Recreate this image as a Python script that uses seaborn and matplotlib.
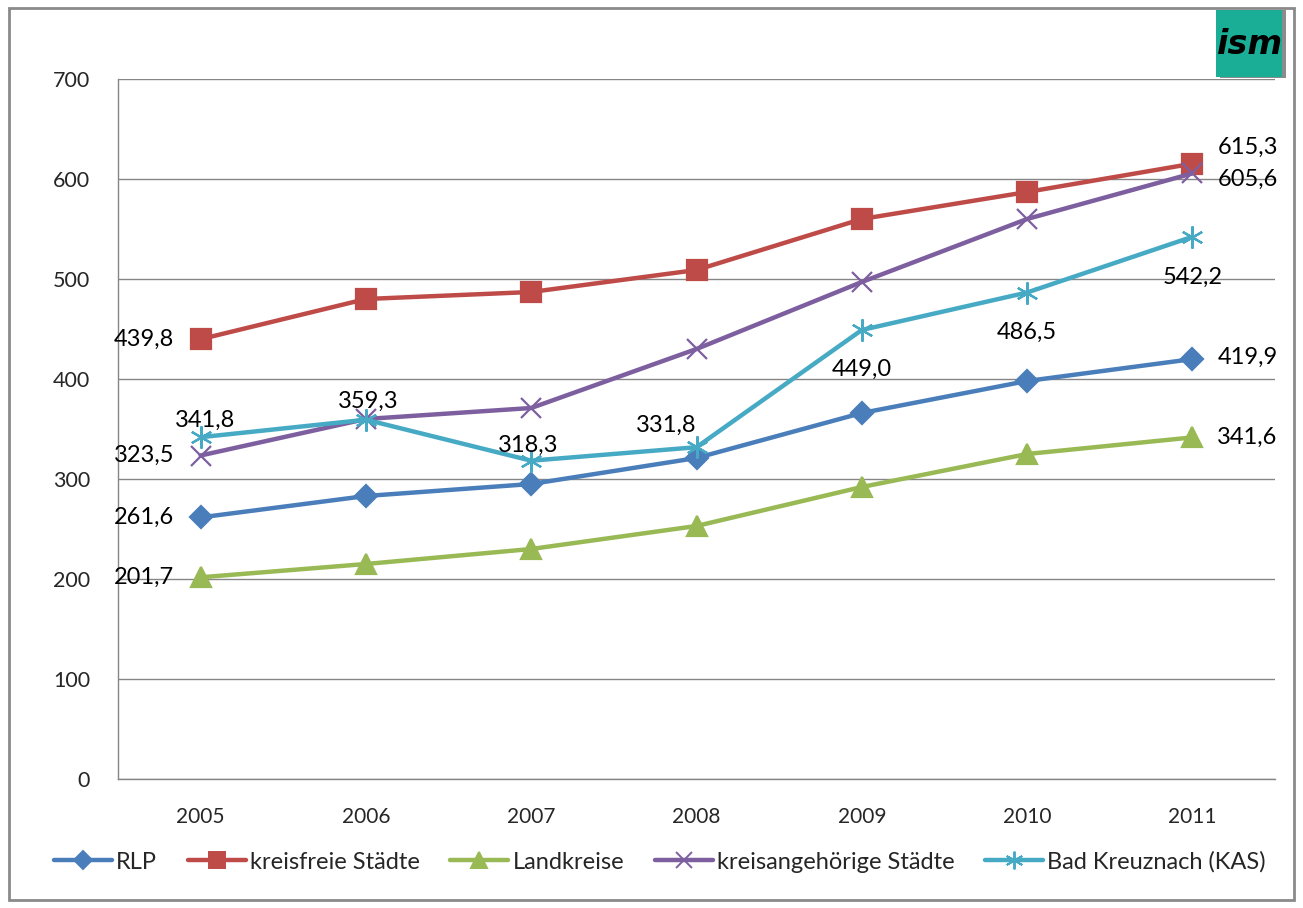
import pandas as pd
import matplotlib.pyplot as plt
import seaborn as sns
from matplotlib.patches import Rectangle
from matplotlib.lines import Line2D

# Data
years = ["2005", "2006", "2007", "2008", "2009", "2010", "2011"]
rlp = [261.6, 283, 295, 321, 366, 398, 419.9]
kreisfreie = [439.8, 480, 487, 509, 560, 587, 615.3]
landkreise = [201.7, 215, 230, 253, 292, 325, 341.6]
kreisangehoerige = [323.5, 360, 371, 430, 497, 560, 605.6]
bad_kreuznach = [341.8, 359.3, 318.3, 331.8, 449.0, 486.5, 542.2]

series_names = ["RLP", "kreisfreie Städte", "Landkreise",
                "kreisangehörige Städte", "Bad Kreuznach (KAS)"]
series_values = [rlp, kreisfreie, landkreise, kreisangehoerige, bad_kreuznach]

colors = ["#4A7EBB", "#BE4B48", "#98B954", "#7D5FA0", "#46AAC5"]
markers = ["D", "s", "^", "x", (6, 2, 0)]
msizes = [11, 14, 14, 14, 16]

sns.set_style("white")
plt.rcParams["font.family"] = ["Lato", "DejaVu Sans"]

fig = plt.figure(figsize=(13.03, 9.08), dpi=100)
ax = fig.add_axes([118 / 1303, 129 / 908, (1275 - 118) / 1303, 700 / 908])

df = pd.DataFrame({"Jahr": years * 5,
                   "x": list(range(7)) * 5,
                   "Wert": sum(series_values, []),
                   "Reihe": [n for n in series_names for _ in years]})

handles = []
for name, col, mk, ms in zip(series_names, colors, markers, msizes):
    sub = df[df["Reihe"] == name]
    sns.lineplot(data=sub, x="x", y="Wert", ax=ax, color=col, linewidth=3.2,
                 marker=mk, markersize=ms, markeredgecolor=col,
                 markeredgewidth=1.6, legend=False, zorder=3)
    handles.append(Line2D([], [], color=col, lw=3.2, marker=mk, markersize=ms * 0.8,
                          markeredgecolor=col, markeredgewidth=1.4))

ax.set_xlim(-0.5, 6.5)
ax.set_ylim(0, 700)
ax.set_yticks(range(0, 701, 100))
ax.set_xticks(range(7))
ax.set_xticklabels(years)
ax.set_xticks([i - 0.5 for i in range(8)], minor=True)
ax.tick_params(axis="x", which="major", length=0, pad=20, labelsize=15)
ax.tick_params(axis="x", which="minor", length=7, color="#868686", direction="out")
ax.tick_params(axis="y", length=7, color="#868686", direction="out", labelsize=15.5, pad=13)
ax.yaxis.grid(True, color="#868686", linewidth=1)
ax.set_axisbelow(True)
for s in ["top", "right"]:
    ax.spines[s].set_visible(False)
for s in ["left", "bottom"]:
    ax.spines[s].set_color("#868686")
    ax.spines[s].set_linewidth(1)
ax.set_xlabel("")
ax.set_ylabel("")

def fmt(v):
    return f"{v:.1f}".replace(".", ",")

lab = dict(fontsize=17, color="black", zorder=5, textcoords="offset points")
# first year labels to the left
for vals in [rlp, kreisfreie, landkreise, kreisangehoerige]:
    ax.annotate(fmt(vals[0]), (0, vals[0]), xytext=(-19, 0),
                ha="right", va="center", **lab)
# last year labels to the right
ax.annotate(fmt(rlp[-1]), (6, rlp[-1]), xytext=(18, 1), ha="left", va="center", **lab)
ax.annotate(fmt(landkreise[-1]), (6, landkreise[-1]), xytext=(18, 0), ha="left", va="center", **lab)
ax.annotate(fmt(kreisfreie[-1]), (6, kreisfreie[-1]), xytext=(18, 12), ha="left", va="center", **lab)
ax.annotate(fmt(kreisangehoerige[-1]), (6, kreisangehoerige[-1]), xytext=(18, -4),
            ha="left", va="center", **lab)
# Bad Kreuznach labels
bk_off = [(3, 12), (2, 13), (-2, 11), (-22, 16), (0, -28), (0, -29), (0, -29)]
for i, (v, off) in enumerate(zip(bad_kreuznach, bk_off)):
    ax.annotate(fmt(v), (i, v), xytext=off, ha="center", va="center", **lab)

fig.legend(handles, series_names, loc="center", bbox_to_anchor=(660 / 1303, 46 / 908),
           ncol=5, frameon=False, fontsize=17, handlelength=2.45, columnspacing=1.3,
           handletextpad=0.18)

# outer chart border
fig.patches.append(Rectangle((9 / 1303, 8 / 908), 1285 / 1303, 892 / 908,
                             transform=fig.transFigure, fill=False,
                             edgecolor="#8A8A8A", linewidth=2))

# ism logo
fig.patches.append(Rectangle((1220 / 1303, (908 - 78) / 908), 66 / 1303, 68 / 908,
                             transform=fig.transFigure, facecolor="#8C8C8C",
                             edgecolor="none", zorder=10))
fig.patches.append(Rectangle((1216 / 1303, (908 - 77) / 908), 66 / 1303, 67 / 908,
                             transform=fig.transFigure, facecolor="#1AAE96",
                             edgecolor="none", zorder=11))
fig.text(1250 / 1303, (908 - 44) / 908, "ism", fontsize=24, fontstyle="italic",
         fontweight="bold", ha="center", va="center", color="black", zorder=12,
         family="DejaVu Sans")

fig.savefig("out.png", dpi=100)
